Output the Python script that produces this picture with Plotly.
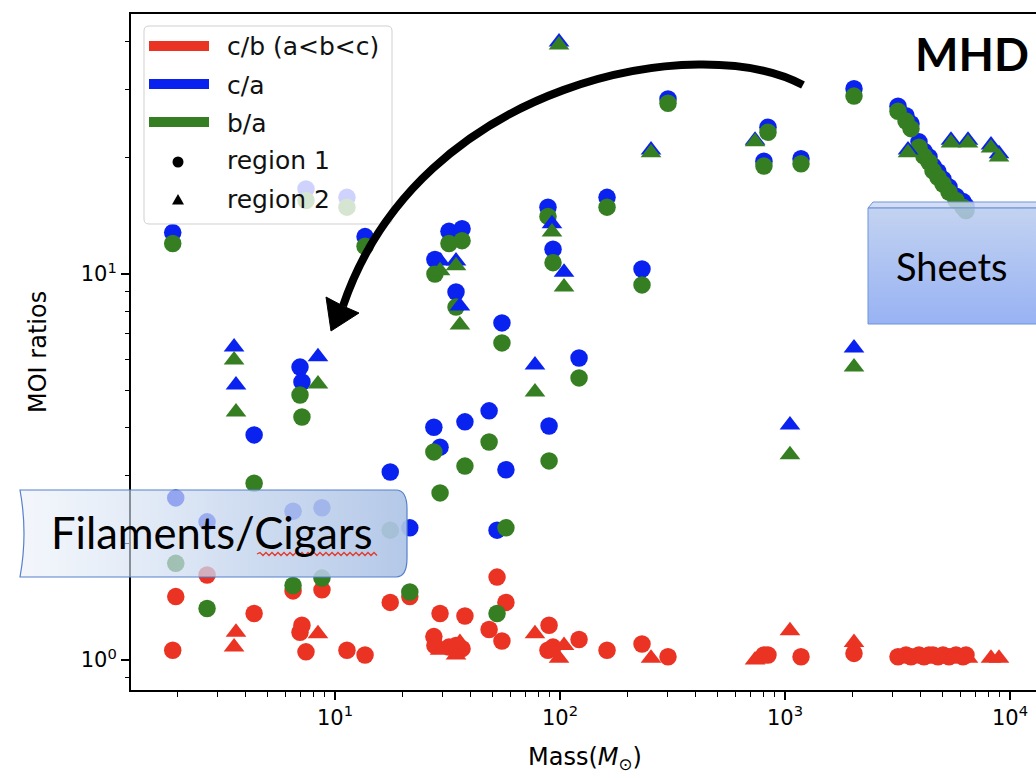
import base64
import plotly.graph_objects as go

# ---------------- data ----------------
# Region 1 (circles): mass [Msun], c/b, c/a, b/a
r1_mass = [1.90, 1.96, 2.70, 4.37, 6.51, 6.99, 7.13, 7.43, 8.75, 11.3, 13.6, 17.6, 21.5,
           27.5, 27.8, 29.3, 32.1, 34.5, 36.7, 37.8, 48.4, 52.5, 55.2, 57.5, 88.4, 89.4,
           93.1, 121.5, 161.8, 231.4, 302, 806, 840, 1178, 2026,
           3178, 3450, 3631, 3940, 4147, 4365, 4548, 4786, 5038, 5356, 5754, 6183, 6373]
r1_cb = [1.06, 1.46, 1.66, 1.32, 1.51, 1.18, 1.23, 1.05, 1.52, 1.06, 1.03, 1.41, 1.46,
         1.15, 1.09, 1.32, 1.08, 1.09, 1.07, 1.30, 1.20, 1.64, 1.12, 1.41, 1.06, 1.23,
         1.08, 1.13, 1.06, 1.10, 1.02, 1.03, 1.03, 1.02, 1.04,
         1.02, 1.03, 1.02, 1.03, 1.02, 1.03, 1.03, 1.02, 1.03, 1.02, 1.03, 1.02, 1.03]
r1_ca = [12.8, 2.63, 2.28, 3.83, 2.43, 5.74, 5.25, 16.6, 2.48, 15.8, 12.5, 3.07, 2.20,
         4.01, 10.9, 3.56, 12.9, 8.98, 13.1, 4.14, 4.42, 2.17, 7.47, 3.11, 14.9, 4.04,
         11.6, 6.06, 15.8, 10.3, 28.4, 19.6, 24.0, 19.9, 30.2,
         27.2, 25.7, 24.5, 22.0, 20.8, 20.1, 19.05, 18.4, 17.6, 16.8, 15.9, 15.4, 15.0]
r1_ba = [12.0, 1.78, 1.36, 2.87, 1.56, 4.86, 4.26, 15.5, 1.63, 14.9, 11.8, 2.17, 1.50,
         3.46, 10.0, 2.71, 12.0, 8.21, 12.2, 3.18, 3.67, 1.32, 6.63, 2.20, 14.1, 3.28,
         10.7, 5.38, 14.9, 9.37, 27.7, 19.05, 23.3, 19.3, 28.9,
         26.4, 24.9, 23.8, 21.3, 20.2, 19.5, 18.5, 17.8, 17.1, 16.3, 15.5, 14.9, 14.6]

# Region 2 (triangles)
r2_mass = [3.56, 3.63, 8.40, 29.3, 34.5, 35.9, 77.4, 92.1, 99.0, 104.2, 253.8, 736,
           1052, 2026, 3521, 5467, 6506, 8232, 8934]
r2_cb = [1.08, 1.18, 1.17, 1.06, 1.03, 1.11, 1.17, 1.05, 1.01, 1.09, 1.01, 1.00,
         1.19, 1.11, 1.01, 1.01, 1.01, 1.01, 1.01]
r2_ca = [6.47, 5.16, 6.10, 10.8, 10.8, 8.26, 5.81, 13.5, 39.9, 10.1, 20.95, 22.2,
         4.06, 6.43, 20.95, 22.2, 22.2, 21.6, 20.5]
r2_ba = [5.99, 4.39, 5.19, 10.2, 10.5, 7.38, 4.95, 12.85, 39.2, 9.25, 20.6, 22.0,
         3.40, 5.74, 20.6, 21.85, 21.85, 21.2, 20.1]

series_names = ["c/b (a&lt;b&lt;c)", "c/a", "b/a"]
region_names = ["region 1", "region 2"]
x_tickvals = [10, 100, 1000, 10000]
x_ticktext = ["10<sup>1</sup>", "10<sup>2</sup>", "10<sup>3</sup>", "10<sup>4</sup>"]
y_tickvals = [1, 10]
y_ticktext = ["10<sup>0</sup>", "10<sup>1</sup>"]
x_minor = [2, 3, 4, 5, 6, 7, 8, 9, 20, 30, 40, 50, 60, 70, 80, 90,
           200, 300, 400, 500, 600, 700, 800, 900, 2000, 3000, 4000, 5000, 6000, 7000, 8000, 9000]
y_minor = [0.9, 2, 3, 4, 5, 6, 7, 8, 9, 20, 30, 40]

RED, BLUE, GREEN = "#EB3323", "#0a22f0", "#367E22"
colors = [RED, BLUE, GREEN]

# ---------------- layout geometry ----------------
W, H = 1036, 778
ML, MT, MB = 131, 14, 88
PW, PH = W - ML, H - MT - MB


def fx(px):
    return (px - ML) / PW


def fy(py):
    return (H - MB - py) / PH


def P(x, y):
    return f"{fx(x):.5f},{fy(y):.5f}"


fig = go.Figure()

for region, (mass, cb, ca, ba, sym, size) in enumerate([
        (r1_mass, r1_cb, r1_ca, r1_ba, "circle", 17.5),
        (r2_mass, r2_cb, r2_ca, r2_ba, "triangle-up", 18)]):
    for name, vals, col in zip(series_names, [cb, ca, ba], colors):
        fig.add_trace(go.Scatter(
            x=mass, y=vals, mode="markers", name=f"{name} {region_names[region]}",
            marker=dict(symbol=sym, size=size, color=col, line=dict(width=0)),
            showlegend=False, cliponaxis=False))

axis_font = dict(family="DejaVu Sans", size=21, color="black")
fig.update_layout(
    width=W, height=H, margin=dict(l=ML, r=0, t=MT, b=MB, autoexpand=False),
    paper_bgcolor="white", plot_bgcolor="white", showlegend=False,
    xaxis=dict(type="log", range=[0.0933, 0.0933 + PW / 225], tickmode="array",
               tickvals=x_tickvals, ticktext=x_ticktext, ticks="outside", ticklen=8,
               tickwidth=1.6, tickcolor="black", showline=True, linewidth=2,
               linecolor="black", mirror=True, showgrid=False, zeroline=False,
               tickfont=axis_font,
               minor=dict(tickmode="array", tickvals=x_minor, ticks="outside",
                          ticklen=4.5, tickwidth=1.2, tickcolor="black", showgrid=False)),
    yaxis=dict(type="log", range=[-0.0777, -0.0777 + PH / 386], tickmode="array",
               tickvals=y_tickvals, ticktext=y_ticktext, ticks="outside", ticklen=8,
               tickwidth=1.6, tickcolor="black", showline=True, linewidth=2,
               linecolor="black", mirror=False, showgrid=False, zeroline=False,
               tickfont=axis_font,
               minor=dict(tickmode="array", tickvals=y_minor, ticks="outside",
                          ticklen=4.5, tickwidth=1.2, tickcolor="black", showgrid=False)),
)

shapes = []
annots = []

# axis titles
annots.append(dict(text="Mass(<i>M</i><sub>⊙</sub>)", x=fx(585), y=fy(759), xref="paper",
                   yref="paper", showarrow=False, xanchor="center", yanchor="middle",
                   font=dict(family="DejaVu Sans", size=24, color="black")))
annots.append(dict(text="MOI ratios", x=fx(38), y=fy(352), xref="paper", yref="paper",
                   showarrow=False, textangle=-90, xanchor="center", yanchor="middle",
                   font=dict(family="DejaVu Sans", size=24, color="black")))

# ---------------- legend (drawn) ----------------
lx0, ly0, lx1, ly1, rr = 144, 26, 392, 224, 5
shapes.append(dict(type="path", xref="paper", yref="paper", layer="above",
                   path=(f"M{P(lx0+rr, ly0)} L{P(lx1-rr, ly0)} Q{P(lx1, ly0)} {P(lx1, ly0+rr)} "
                         f"L{P(lx1, ly1-rr)} Q{P(lx1, ly1)} {P(lx1-rr, ly1)} L{P(lx0+rr, ly1)} "
                         f"Q{P(lx0, ly1)} {P(lx0, ly1-rr)} L{P(lx0, ly0+rr)} Q{P(lx0, ly0)} {P(lx0+rr, ly0)} Z"),
                   fillcolor="rgba(255,255,255,0.8)", line=dict(color="#d0d0d0", width=1)))
entry_y = [46, 84, 122, 162, 200]
for i, (name, col) in enumerate(zip(series_names, colors)):
    yy = entry_y[i]
    shapes.append(dict(type="line", xref="paper", yref="paper", layer="above",
                       x0=fx(149), x1=fx(209), y0=fy(yy), y1=fy(yy),
                       line=dict(color=col, width=10)))
    annots.append(dict(text=name, x=fx(225), y=fy(yy + 1), xref="paper", yref="paper",
                       showarrow=False, xanchor="left", yanchor="middle",
                       font=dict(family="DejaVu Sans", size=25, color="#111")))
# region markers
cy = entry_y[3]
shapes.append(dict(type="circle", xref="paper", yref="paper", layer="above",
                   x0=fx(172.5), x1=fx(183.5), y0=fy(cy - 5.5), y1=fy(cy + 5.5),
                   fillcolor="black", line=dict(width=0)))
ty = entry_y[4]
shapes.append(dict(type="path", xref="paper", yref="paper", layer="above",
                   path=f"M{P(172, ty+4.5)} L{P(184, ty+4.5)} L{P(178, ty-6)} Z",
                   fillcolor="black", line=dict(width=0)))
for i, name in enumerate(region_names):
    annots.append(dict(text=name, x=fx(225), y=fy(entry_y[3 + i] - 1), xref="paper",
                       yref="paper", showarrow=False, xanchor="left", yanchor="middle",
                       font=dict(family="DejaVu Sans", size=25, color="#111")))

# ---------------- curved arrow ----------------
shapes.append(dict(type="path", xref="paper", yref="paper", layer="above",
                   path=f"M{P(803, 85)} C{P(700, 30)} {P(420, 80)} {P(343, 306)}",
                   line=dict(color="black", width=8)))
shapes.append(dict(type="path", xref="paper", yref="paper", layer="above",
                   path=f"M{P(331, 331)} L{P(326, 297)} L{P(343, 306)} L{P(359, 313)} Z",
                   fillcolor="black", line=dict(color="black", width=1)))

# ---------------- callout boxes (SVG images) ----------------
wave = "M243,69 " + " ".join(f"L{243 + 3 * k},{67.5 if k % 2 else 70.5}" for k in range(1, 41))
fil_svg = f"""<svg xmlns='http://www.w3.org/2000/svg' width='400' height='96' viewBox='0 0 400 96'>
<defs><linearGradient id='g' x1='0' y1='0' x2='1' y2='0'>
<stop offset='0' stop-color='#e4ecf7' stop-opacity='0.45'/>
<stop offset='0.55' stop-color='#c6d6ee' stop-opacity='0.8'/>
<stop offset='1' stop-color='#aec4e6' stop-opacity='0.93'/>
</linearGradient></defs>
<path d='M6,5 H382 Q393,5 393,24 V73 Q393,92 382,92 H6 Q14,48.5 6,5 Z' fill='url(#g)' stroke='#5580cc' stroke-width='1.2'/>
<path d='{wave}' fill='none' stroke='#e23a2a' stroke-width='1.3'/>
</svg>"""
sh_svg = """<svg xmlns='http://www.w3.org/2000/svg' width='172' height='128' viewBox='0 0 172 128'>
<defs><linearGradient id='s' x1='0' y1='0' x2='0' y2='1'>
<stop offset='0' stop-color='#b8cbee' stop-opacity='0.85'/>
<stop offset='1' stop-color='#86a5f2' stop-opacity='0.85'/>
</linearGradient></defs>
<path d='M2,10 L7,4 H175 V10 Z' fill='#cbd8f2' fill-opacity='0.85' stroke='#6f93d8' stroke-width='1'/>
<path d='M2,10 H175 V126 H2 Z' fill='url(#s)' stroke='#6f93d8' stroke-width='1'/>
</svg>"""


def svg_uri(s):
    return "data:image/svg+xml;base64," + base64.b64encode(s.encode()).decode()


images = [
    dict(source=svg_uri(fil_svg), xref="paper", yref="paper", x=fx(14), y=fy(485),
         sizex=400 / PW, sizey=96 / PH, xanchor="left", yanchor="top", sizing="stretch",
         layer="above"),
    dict(source=svg_uri(sh_svg), xref="paper", yref="paper", x=fx(866), y=fy(198),
         sizex=172 / PW, sizey=128 / PH, xanchor="left", yanchor="top", sizing="stretch",
         layer="above"),
]

annots.append(dict(text="Filaments/Cigars", x=fx(212), y=fy(532), xref="paper", yref="paper",
                   showarrow=False, xanchor="center", yanchor="middle",
                   font=dict(family="Lato", size=43.5, color="black")))
annots.append(dict(text="Sheets", x=fx(952), y=fy(266), xref="paper", yref="paper",
                   showarrow=False, xanchor="center", yanchor="middle",
                   font=dict(family="Lato", size=38, color="black")))
annots.append(dict(text="<b>MHD</b>", x=fx(972), y=fy(53), xref="paper", yref="paper",
                   showarrow=False, xanchor="center", yanchor="middle",
                   font=dict(family="Lato", size=46, color="black")))

fig.update_layout(shapes=shapes, annotations=annots, images=images)
fig.write_html("out.html")
